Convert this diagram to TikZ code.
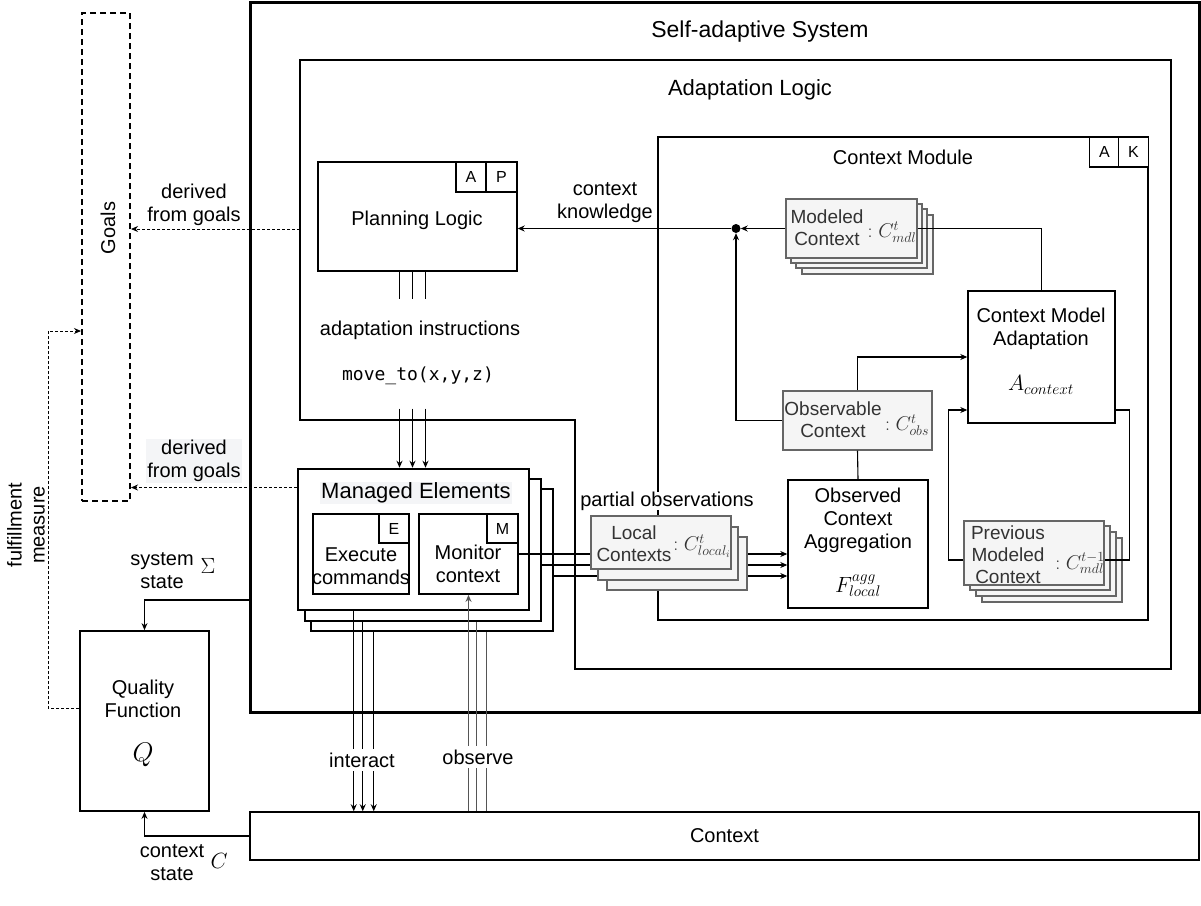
\RequirePackage{fix-cm}
\documentclass[tikz,border=0pt]{standalone}
\usepackage{fontspec}
\setmainfont{Liberation Sans}
\setmonofont{DejaVu Sans Mono}
\usepackage{xcolor}
\usepackage{tikz}
\usetikzlibrary{calc,arrows.meta,positioning}

\definecolor{gboxfill}{HTML}{F5F5F5}
\definecolor{gboxline}{HTML}{666666}
\definecolor{gtext}{HTML}{333333}
\definecolor{labelbg}{HTML}{F4F5F7}
\definecolor{obsgray}{HTML}{555555}

\newcommand{\txtsize}{\fontsize{20pt}{23pt}\selectfont}
\newcommand{\gsize}{\fontsize{19pt}{22pt}\selectfont}
\newcommand{\bigsize}{\fontsize{22pt}{26pt}\selectfont}
\newcommand{\titlesize}{\fontsize{23pt}{27pt}\selectfont}
\newcommand{\tagsize}{\fontsize{16pt}{18pt}\selectfont}
\newcommand{\mathsize}{\fontsize{22pt}{26pt}\selectfont}
\newcommand{\smathsize}{\fontsize{20pt}{24pt}\selectfont}
\newcommand{\bmathsize}{\fontsize{27pt}{30pt}\selectfont}
\newcommand{\monosize}{\fontsize{18pt}{21pt}\selectfont}

\tikzset{
  box/.style={draw, line width=1.4pt, fill=white, inner sep=0pt},
  tagbox/.style={draw, line width=1.4pt, fill=white, minimum width=30pt, minimum height=30pt, inner sep=0pt, font=\tagsize},
  graybox/.style={draw=gboxline, line width=1.2pt, fill=gboxfill, inner sep=0pt},
  lbl/.style={font=\txtsize, align=center, inner sep=0pt},
  glbl/.style={lbl, font=\gsize, text=gtext},
  conn/.style={line width=1.1pt},
  arr/.style={conn, -{Stealth[length=7pt,width=6pt]}},
  dsh/.style={line width=0.9pt, dash pattern=on 3pt off 2pt, -{Stealth[length=7pt,width=6pt]}},
}

\begin{document}
\begin{tikzpicture}[x=1pt,y=-1pt]
  \useasboundingbox (0,0) rectangle (1201,905);

  % self-adaptive system and adaptation logic
  \node[draw, line width=3pt, minimum width=949pt, minimum height=710pt] (sas) at (724.5,357) {};
  \node[lbl, font=\titlesize] (sastitle) at (760,32) {Self-adaptive System};
  \draw[line width=2.5pt] (300,60) -- (1171,60) -- (1171,669) -- (575,669) -- (575,420) -- (300,420) -- cycle;
  \coordinate (alw) at (300,229);
  \node[lbl, font=\bigsize] (altitle) at (750,90) {Adaptation Logic};

  % context module
  \node[draw, line width=1.3pt, minimum width=490pt, minimum height=483pt] (cm) at (903,378.5) {};
  \node[lbl] (cmtitle) at (903,157) {Context Module};
  \node[tagbox] (cmA) at (1104.5,152) {A};
  \node[tagbox] (cmK) at (1133.5,152) {K};

  % planning logic
  \node[box, minimum width=199pt, minimum height=109pt] (pl) at (417.5,216.5) {};
  \node[lbl] (pltitle) at (417,220) {Planning Logic};
  \node[tagbox] (plA) at (471,177) {A};
  \node[tagbox, minimum width=31pt] (plP) at (501.5,177) {P};
  \draw[conn] ($(pl.south)+(-18,0)$) -- ++(0,27);
  \draw[conn] ($(pl.south)+(-5,0)$) -- ++(0,27);
  \draw[conn] ($(pl.south)+(8,0)$) -- ++(0,27);
  \node[lbl] (ai) at (420,330) {adaptation instructions};
  \node[lbl, font=\monosize\ttfamily] (mv) at (418,376) {move\_to(x,y,z)};

  % goals
  \node[draw, line width=2pt, dash pattern=on 6pt off 4pt, minimum width=48pt, minimum height=488pt] (goals) at (106,257) {};
  \node[lbl, rotate=90] (goalstxt) at (108,228) {Goals};
  \draw[dsh] (alw) -- (alw -| goals.east);
  \node[lbl] (dg1) at (194,205) {derived\\from goals};

  % managed elements
  \node[box, line width=2.5pt, minimum width=242pt, minimum height=142pt] (me3) at (432,560) {};
  \node[box, line width=2.5pt, minimum width=236pt, minimum height=142pt] (me2) at (423,550) {};
  \node[box, line width=2.5pt, minimum width=231pt, minimum height=141pt] (me1) at (413.5,539.5) {};
  \node[lbl, font=\bigsize, fill=labelbg, inner sep=1pt] (metitle) at (416,493) {Managed Elements};
  \node[box, line width=1.8pt, minimum width=96pt, minimum height=80pt] (ex) at (361,554) {};
  \node[tagbox, minimum height=29pt] (exE) at (394,528.5) {E};
  \node[lbl] (extxt) at (361,566) {Execute\\commands};
  \node[box, line width=1.8pt, minimum width=99pt, minimum height=80pt] (mon) at (468.5,554) {};
  \node[tagbox, minimum width=31pt, minimum height=29pt] (monM) at (502.5,528.5) {M};
  \node[lbl] (montxt) at (468,564) {Monitor\\context};

  \draw[arr] ($(pl.south)+(-18,137)$) coordinate (t1) -- (t1 |- me1.north);
  \draw[arr] ($(pl.south)+(-5,137)$) coordinate (t2) -- (t2 |- me1.north);
  \draw[arr] ($(pl.south)+(8,137)$) coordinate (t3) -- (t3 |- me1.north);

  \draw[dsh] ([yshift=52pt]me1.west) coordinate (d2) -- (d2 -| goals.east);
  \node[lbl, fill=labelbg, inner sep=1pt] (dg2) at (194,461) {derived\\from goals};

  % context module contents
  \node[box, minimum width=147pt, minimum height=132pt] (cma) at (1041.5,357) {};
  \node[lbl] (cmatxt) at (1041,329) {Context Model\\Adaptation};
  \node[lbl, font=\mathsize] (acon) at (1041,385) {$A_{context}$};

  \node[box, minimum width=140pt, minimum height=128pt] (ag) at (858,544) {};
  \node[lbl] (agtxt) at (858,520) {Observed\\Context\\Aggregation};
  \node[lbl, font=\mathsize] (fagg) at (858,586) {$F^{agg}_{local}$};

  \node[graybox, minimum width=149pt, minimum height=59pt] (oc) at (857.5,420.5) {};
  \node[glbl] (octxt) at (833,419.5) {Observable\\Context};
  \node[glbl, font=\smathsize] (ocsym) at (907,425) {$:C^t_{obs}$};

  \node[graybox, minimum width=131pt, minimum height=59pt] (mc4) at (867.5,244.5) {};
  \node[graybox, minimum width=131pt, minimum height=59pt] (mc3) at (861.5,238.5) {};
  \node[graybox, minimum width=131pt, minimum height=59pt] (mc2) at (856.5,233.5) {};
  \node[graybox, minimum width=131pt, minimum height=59pt] (mc1) at (851.5,228.5) {};
  \node[glbl] (mctxt) at (827,228) {Modeled\\Context};
  \node[glbl, font=\smathsize] (mcsym) at (892,232) {$:C^t_{mdl}$};

  \node[graybox, minimum width=140pt, minimum height=64pt] (pm4) at (1052,570) {};
  \node[graybox, minimum width=140pt, minimum height=64pt] (pm3) at (1046,564) {};
  \node[graybox, minimum width=140pt, minimum height=64pt] (pm2) at (1040,558) {};
  \node[graybox, minimum width=140pt, minimum height=64pt] (pm1) at (1034,553) {};
  \node[glbl] (pmtxt) at (1008,555) {Previous\\Modeled\\Context};
  \node[glbl, font=\smathsize] (pmsym) at (1080,563) {$:C^{t-1}_{mdl}$};

  \node[circle, fill, inner sep=0pt, minimum size=9pt] (dot) at (736,228.5) {};
  \draw[arr] (mc1.west) -- (dot);
  \draw[arr] (dot) -- (dot -| pl.east);
  \node[lbl] (ck) at (605,203) {context\\knowledge};
  \draw[conn] (mc1.east) -| (cma.north);
  \draw[arr] (oc.west) -| (dot);
  \draw[arr] (oc.north) |- (cma.west);
  \draw[conn] (oc.south) -- (ag.north);
  \draw[arr] ([yshift=-7pt]pm1.west) -- ++(-15,0) |- ([yshift=-53pt]cma.west);
  \draw[conn] ([yshift=-53pt]cma.east) -- ++(14,0) |- ([yshift=-7pt]pm1.east);

  % observations into the aggregation
  \coordinate (m2) at ([yshift=-11pt]mon.east);
  \coordinate (m3) at ([yshift=-22pt]mon.east);
  \draw[arr] (mon.east) -- (mon.east -| ag.west);
  \draw[arr] (m2 -| me2.east) -- (m2 -| ag.west);
  \draw[arr] (m3 -| me3.east) -- (m3 -| ag.west);
  \node[graybox, minimum width=140pt, minimum height=53pt] (lc3) at (677,563.5) {};
  \node[graybox, minimum width=140pt, minimum height=53pt] (lc2) at (668,553.5) {};
  \node[graybox, minimum width=140pt, minimum height=53pt] (lc1) at (661,542.5) {};
  \node[glbl] (lctxt) at (634,543.5) {Local\\Contexts};
  \node[glbl, font=\smathsize] (lcsym) at (702,546) {$:C^t_{local_i}$};
  \node[lbl, fill=white] (po) at (667,501) {partial observations};

  % context, interaction and observation
  \node[box, line width=1.5pt, minimum width=949pt, minimum height=48pt, font=\txtsize] (ctx) at (724.5,836) {Context};
  \draw[arr] ($(me1.south west)+(57,0)$) coordinate (i1) -- (i1 |- ctx.north);
  \draw[arr] ($(me2.south west)+(59,0)$) coordinate (i2) -- (i2 |- ctx.north);
  \draw[arr] ($(me3.south west)+(64,0)$) coordinate (i3) -- (i3 |- ctx.north);
  \node[lbl, fill=white, inner ysep=4pt] (inter) at (362,760) {interact};
  \draw[arr, draw=obsgray] (ctx.north -| mon.south) -- (mon.south);
  \draw[conn, draw=obsgray] ($(me2.south west)+(173,0)$) coordinate (o2) -- (o2 |- ctx.north);
  \draw[conn, draw=obsgray] ($(me3.south west)+(177,0)$) coordinate (o3) -- (o3 |- ctx.north);
  \node[lbl, fill=white, inner ysep=4pt] (obs) at (478,757) {observe};

  % quality function
  \node[box, line width=1.8pt, minimum width=129pt, minimum height=180pt] (qf) at (144.5,721) {};
  \node[lbl] (qftxt) at (143,699) {Quality\\Function};
  \node[lbl, font=\bmathsize] (qfq) at (143,755) {$Q$};
  \coordinate (sysout) at (250,600);
  \draw[arr] (sysout) -| (qf.north);
  \node[lbl] (sst) at (162,571) {system\\state};
  \node[lbl, font=\mathsize] (sig) at (208,566) {$\Sigma$};
  \draw[arr] (ctx.west) -| (qf.south);
  \node[lbl] (cst) at (172,863) {context\\state};
  \node[lbl, font=\mathsize] (csym) at (219,861) {$C$};
  \draw[dsh] ([yshift=13pt]qf.west) -- ++(-31,0) |- ([yshift=-74pt]goals.west);
  \node[lbl, rotate=90] (fm) at (26,525) {fulfillment\\measure};
\end{tikzpicture}
\end{document}
